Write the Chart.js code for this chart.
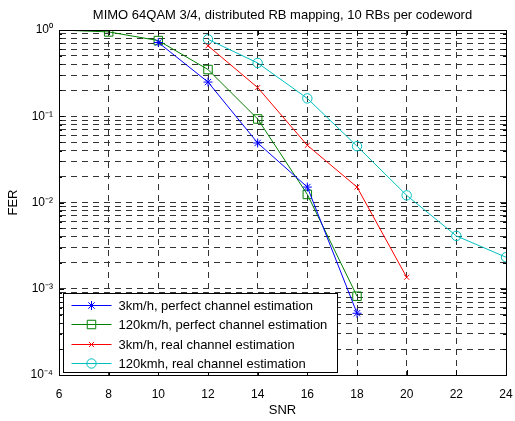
<!DOCTYPE html>
<html><head><meta charset="utf-8">
<script src="https://cdn.jsdelivr.net/npm/chart.js@4/dist/chart.umd.min.js"></script>
<style>html,body{margin:0;padding:0;background:#fff;}#wrap{width:515px;height:421px;position:relative;}</style>
</head><body><div id="wrap"><canvas id="c" width="515" height="421"></canvas></div>
<script>
const chartTitle = 'MIMO 64QAM 3/4, distributed RB mapping, 10 RBs per codeword';
const xTitle = 'SNR';
const yTitle = 'FER';
const snr = [6, 8, 10, 12, 14, 16, 18, 20, 22, 24];
const xTickValues = [6, 8, 10, 12, 14, 16, 18, 20, 22, 24];
const yDecadeExponents = [-4, -3, -2, -1, 0];
const yTickLabels = ['10\u207B\u2074', '10\u207B\u00B3', '10\u207B\u00B2', '10\u207B\u00B9', '10\u2070'];
const seriesNames = [
  '3km/h, perfect channel estimation',
  '120km/h, perfect channel estimation',
  '3km/h, real channel estimation',
  '120kmh, real channel estimation'
];
const fer3kmPerfect   = [null, null, 0.716, 0.249, 0.049, 0.0151, 0.00052, null, null, null];
const fer120kmPerfect = [1.0, 0.95, 0.754, 0.348, 0.093, 0.0124, 0.00082, null, null, null];
const fer3kmReal      = [null, null, null, 0.656, 0.215, 0.046, 0.0151, 0.00136, null, null];
const fer120kmReal    = [null, null, null, 0.78, 0.415, 0.161, 0.045, 0.0121, 0.0041, 0.00232];

const FONT = '"Liberation Sans", Arial, Helvetica, sans-serif';
const toPts = arr => snr.map((x, i) => ({x: x, y: arr[i]})).filter(p => p.y !== null);

const styles = [
  {color: '#0000ff', pointStyle: 'star', radius: 4.5},
  {color: '#008000', pointStyle: 'rect', radius: 6},
  {color: '#ff0000', pointStyle: 'crossRot', radius: 3.5},
  {color: '#00bfbf', pointStyle: 'circle', radius: 4.7}
];
const seriesData = [fer3kmPerfect, fer120kmPerfect, fer3kmReal, fer120kmReal];

const datasets = seriesData.map((arr, i) => {
  const pts = toPts(arr);
  const st = styles[i];
  return {
    label: seriesNames[i],
    data: pts,
    borderColor: st.color,
    backgroundColor: 'rgba(0,0,0,0)',
    borderWidth: 1,
    pointStyle: st.pointStyle,
    pointRadius: pts.map(p => (p.y >= 1 ? 0 : st.radius)),
    pointBorderColor: st.color,
    pointBackgroundColor: 'rgba(0,0,0,0)',
    pointBorderWidth: 1,
    tension: 0,
    fill: false
  };
});

function isDecade(v) {
  const l = Math.log10(v);
  return Math.abs(l - Math.round(l)) < 1e-9;
}

function drawMarker(ctx, style, r, px, py) {
  ctx.save();
  ctx.fillStyle = 'rgba(0,0,0,0)';
  Chart.helpers.drawPoint(ctx, {pointStyle: style, radius: r, rotation: 0, borderWidth: 1}, px, py);
  ctx.restore();
}

const decor = {
  id: 'decor',
  afterDatasetsDraw(chart) {
    const {ctx, chartArea: a, scales: {x, y}} = chart;
    ctx.save();
    ctx.strokeStyle = '#000';
    ctx.lineWidth = 1;
    ctx.setLineDash([]);
    ctx.beginPath();
    x.ticks.forEach(t => {
      const px = Math.round(x.getPixelForValue(t.value)) + 0.5;
      ctx.moveTo(px, a.bottom); ctx.lineTo(px, a.bottom - 5);
      ctx.moveTo(px, a.top); ctx.lineTo(px, a.top + 5);
    });
    y.ticks.forEach(t => {
      const py = Math.round(y.getPixelForValue(t.value)) + 0.5;
      const len = isDecade(t.value) ? 5 : 3;
      ctx.moveTo(a.left, py); ctx.lineTo(a.left + len, py);
      ctx.moveTo(a.right, py); ctx.lineTo(a.right - len, py);
    });
    ctx.stroke();
    ctx.strokeRect(Math.round(a.left) + 0.5, Math.round(a.top) + 0.5,
                   Math.round(a.right - a.left), Math.round(a.bottom - a.top));

    // legend
    const bx = Math.round(a.left + 4) + 0.5, bw = 274, bh = 79;
    const by = Math.round(a.bottom - 3 - bh) + 0.5;
    ctx.fillStyle = '#fff';
    ctx.fillRect(bx, by, bw, bh);
    ctx.strokeStyle = '#000';
    ctx.strokeRect(bx, by, bw, bh);
    ctx.font = '13px ' + FONT;
    ctx.textAlign = 'left';
    ctx.textBaseline = 'middle';
    chart.data.datasets.forEach((ds, i) => {
      const cy = Math.round(by + 11.5 + i * 19.4) + 0.5;
      ctx.strokeStyle = ds.borderColor;
      ctx.lineWidth = 1;
      ctx.beginPath();
      ctx.moveTo(bx + 8, cy); ctx.lineTo(bx + 48, cy);
      ctx.stroke();
      drawMarker(ctx, ds.pointStyle, styles[i].radius, bx + 28, cy);
      ctx.fillStyle = '#000';
      ctx.fillText(ds.label, bx + 55, cy + 0.5);
    });

    // title
    ctx.fillStyle = '#000';
    ctx.font = '13px ' + FONT;
    ctx.textAlign = 'center';
    ctx.textBaseline = 'middle';
    ctx.fillText(chartTitle, (a.left + a.right) / 2, a.top / 2);
    ctx.restore();
  }
};

new Chart(document.getElementById('c'), {
  type: 'line',
  data: {datasets: datasets},
  plugins: [decor],
  options: {
    responsive: false,
    animation: false,
    layout: {padding: {top: 30, right: 9, left: 0, bottom: 0}},
    plugins: {legend: {display: false}, title: {display: false}, tooltip: {enabled: false}},
    scales: {
      x: {
        type: 'linear', min: 6, max: 24,
        afterBuildTicks: s => { s.ticks = xTickValues.map(v => ({value: v})); },
        ticks: {font: {family: FONT, size: 12}, color: '#000', padding: 12, autoSkip: false, maxRotation: 0},
        grid: {color: '#333', lineWidth: 1, drawTicks: false},
        border: {display: true, color: '#000', width: 1, dash: [6, 5]},
        title: {display: true, text: xTitle, font: {family: FONT, size: 13}, color: '#000', padding: {top: 0, bottom: 3}},
        afterFit: s => { s.height = 46; s.paddingLeft = 0; s.paddingRight = 0; }
      },
      y: {
        type: 'logarithmic', min: 1e-4, max: 1,
        afterBuildTicks: s => {
          const t = [];
          for (let k = 0; k < yDecadeExponents.length - 1; k++) {
            const base = Math.pow(10, yDecadeExponents[k]);
            for (let m = 1; m <= 9; m++) t.push({value: m * base});
          }
          t.push({value: Math.pow(10, yDecadeExponents[yDecadeExponents.length - 1])});
          s.ticks = t;
        },
        ticks: {
          font: {family: FONT, size: 12}, color: '#000', padding: 6, autoSkip: false,
          callback: (v) => {
            if (!isDecade(v)) return '';
            const idx = yDecadeExponents.indexOf(Math.round(Math.log10(v)));
            return idx >= 0 ? yTickLabels[idx] : '';
          }
        },
        grid: {color: '#333', lineWidth: 1, drawTicks: false},
        border: {display: true, color: '#000', width: 1, dash: [6, 5]},
        title: {display: true, text: yTitle, font: {family: FONT, size: 13}, color: '#000', padding: {top: 6, bottom: 0}},
        afterFit: s => { s.width = 59; s.paddingTop = 0; s.paddingBottom = 0; }
      }
    }
  }
});
</script></body></html>
